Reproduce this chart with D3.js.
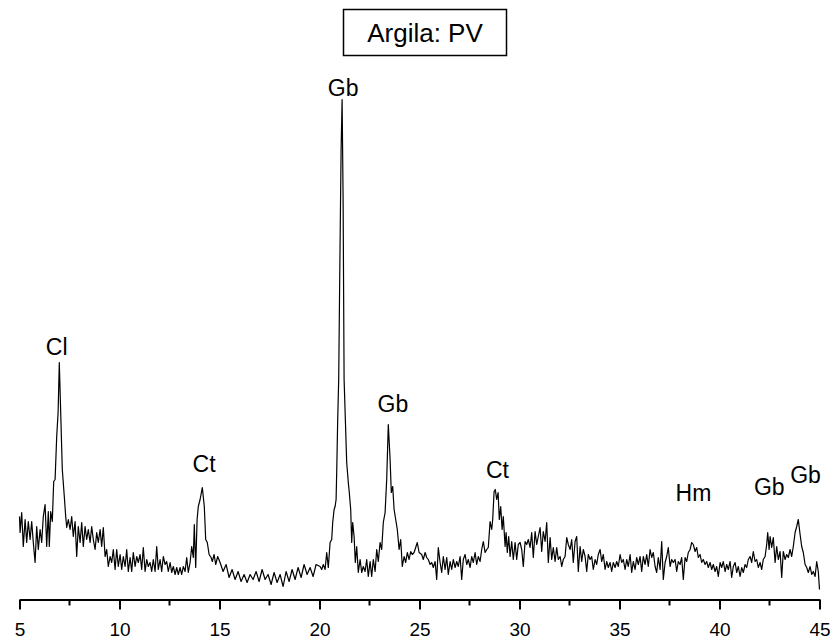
<!DOCTYPE html>
<html>
<head>
<meta charset="utf-8">
<script src="https://cdn.jsdelivr.net/npm/d3@7"></script>
<style>
    body { margin: 0; background: #fff; }
    svg { display: block; }
    text { font-family: "Liberation Sans", Arial, sans-serif; }
</style>
</head>
<body>
<svg id="canvas"></svg>
<script>
// diffractogram, [2theta, counts]
const SCAN_LOW = [
    [5.00, 83], [5.03, 67], [5.11, 87], [5.19, 53], [5.28, 80], [5.36, 57], [5.44, 78], [5.53, 60],
    [5.61, 78], [5.69, 57], [5.78, 37], [5.86, 73], [5.94, 50], [6.03, 70], [6.11, 57], [6.19, 83],
    [6.28, 95], [6.36, 53], [6.44, 88], [6.49, 53], [6.56, 88], [6.64, 78], [6.71, 118], [6.78, 120],
    [6.86, 163], [6.93, 187], [6.99, 237], [7.06, 187], [7.14, 130], [7.24, 103], [7.31, 83], [7.36, 72],
    [7.44, 80], [7.53, 70], [7.61, 83], [7.69, 63], [7.78, 78], [7.86, 43], [7.94, 73], [8.03, 57],
    [8.11, 77], [8.19, 53], [8.28, 73], [8.36, 60], [8.44, 70], [8.53, 57], [8.61, 73], [8.69, 60],
    [8.78, 50], [8.86, 67], [8.94, 57], [9.03, 70], [9.11, 53], [9.19, 72], [9.28, 43], [9.36, 50],
    [9.44, 33], [9.53, 43], [9.61, 37], [9.69, 50], [9.78, 30], [9.86, 50], [9.94, 33], [10.03, 45],
    [10.11, 30], [10.19, 43], [10.28, 33], [10.36, 50], [10.44, 28], [10.53, 42], [10.61, 28], [10.69, 47],
    [10.78, 33], [10.86, 43], [10.94, 37], [11.03, 45], [11.11, 30], [11.19, 52], [11.28, 28], [11.36, 40],
    [11.44, 33], [11.53, 37], [11.61, 28], [11.69, 40], [11.78, 28], [11.86, 53], [11.94, 30], [12.03, 40],
    [12.11, 28], [12.19, 43], [12.28, 35], [12.36, 38], [12.44, 28], [12.53, 37], [12.61, 27], [12.69, 33],
    [12.78, 25], [12.86, 32], [12.94, 25], [13.03, 32], [13.11, 25], [13.19, 33], [13.28, 28], [13.36, 42],
    [13.44, 27], [13.53, 37], [13.61, 53], [13.69, 42], [13.74, 75], [13.81, 32], [13.88, 80], [13.94, 93],
    [14.03, 100], [14.14, 112], [14.24, 93], [14.31, 60], [14.39, 57], [14.48, 45], [14.58, 42], [14.64, 38],
    [14.73, 45], [14.81, 35], [14.91, 43]
];

const SCAN_MID = [
    [15.03, 37], [15.18, 28], [15.33, 35], [15.48, 22], [15.63, 30], [15.78, 20], [15.93, 28], [16.08, 18],
    [16.23, 25], [16.38, 17], [16.53, 25], [16.68, 20], [16.83, 28], [16.98, 18], [17.13, 30], [17.28, 20],
    [17.43, 25], [17.58, 15], [17.73, 27], [17.88, 17], [18.03, 25], [18.18, 13], [18.33, 28], [18.48, 18],
    [18.63, 30], [18.78, 20], [18.93, 32], [19.08, 22], [19.23, 35], [19.38, 25], [19.53, 32], [19.68, 23],
    [19.83, 35], [20.03, 33], [20.11, 30], [20.19, 35], [20.28, 30], [20.36, 47], [20.44, 32], [20.53, 57],
    [20.61, 60], [20.66, 77], [20.73, 90], [20.78, 93], [20.83, 100], [20.86, 127], [20.91, 180], [20.96, 220],
    [21.01, 320], [21.08, 450], [21.13, 500], [21.18, 400], [21.23, 220], [21.36, 137], [21.44, 117], [21.49, 107],
    [21.56, 90], [21.61, 57], [21.66, 77], [21.73, 63], [21.79, 37], [21.86, 53], [21.94, 27], [22.03, 40],
    [22.11, 27], [22.19, 33], [22.28, 28], [22.36, 40], [22.44, 23], [22.53, 38], [22.61, 23], [22.69, 40],
    [22.78, 28], [22.86, 50], [22.94, 38], [23.03, 57], [23.11, 50], [23.19, 77], [23.28, 87], [23.36, 120],
    [23.44, 175], [23.53, 140], [23.59, 107], [23.66, 113], [23.73, 90], [23.81, 80], [23.89, 70], [23.98, 50],
    [24.06, 60], [24.14, 33], [24.23, 43], [24.31, 37], [24.39, 47], [24.48, 40], [24.56, 48], [24.64, 45],
    [24.73, 47], [24.81, 52], [24.89, 57], [24.98, 47]
];

const SCAN_HIGH = [
    [25.11, 45], [25.19, 40], [25.28, 47], [25.36, 42], [25.44, 40], [25.53, 35], [25.61, 37], [25.69, 32],
    [25.78, 38], [25.86, 20], [25.94, 52], [26.03, 37], [26.11, 27], [26.19, 43], [26.28, 30], [26.36, 42],
    [26.44, 25], [26.53, 38], [26.61, 30], [26.69, 40], [26.78, 32], [26.86, 38], [26.94, 33], [27.03, 43],
    [27.11, 20], [27.19, 40], [27.28, 45], [27.36, 35], [27.44, 40], [27.53, 32], [27.61, 43], [27.69, 37],
    [27.78, 47], [27.86, 35], [27.94, 43], [28.03, 38], [28.11, 50], [28.19, 58], [28.28, 47], [28.36, 50],
    [28.44, 52], [28.53, 78], [28.61, 70], [28.66, 80], [28.73, 108], [28.79, 110], [28.86, 100], [28.93, 107],
    [28.99, 80], [29.06, 93], [29.13, 70], [29.19, 83], [29.28, 53], [29.33, 67], [29.39, 47], [29.46, 63],
    [29.53, 43], [29.61, 58], [29.69, 40], [29.78, 57], [29.86, 40], [29.94, 55], [30.03, 57], [30.11, 50],
    [30.19, 33], [30.28, 58], [30.36, 55], [30.44, 60], [30.53, 52], [30.61, 67], [30.69, 42], [30.78, 68],
    [30.86, 55], [30.94, 63], [31.03, 72], [31.11, 48], [31.19, 68], [31.28, 58], [31.36, 77], [31.44, 37],
    [31.53, 62], [31.61, 40], [31.69, 52], [31.78, 38], [31.86, 52], [31.94, 40], [32.03, 43], [32.11, 33],
    [32.19, 40], [32.28, 43], [32.36, 62], [32.44, 55], [32.53, 50], [32.61, 60], [32.69, 37], [32.78, 58],
    [32.86, 63], [32.94, 28], [33.03, 53], [33.11, 38], [33.19, 50], [33.28, 43], [33.36, 28], [33.44, 45],
    [33.53, 40], [33.61, 43], [33.69, 30], [33.78, 40], [33.86, 35], [33.94, 45], [34.03, 50], [34.11, 38],
    [34.19, 45], [34.28, 30], [34.36, 38], [34.44, 32], [34.53, 37], [34.61, 28], [34.69, 37], [34.78, 32],
    [34.86, 38], [34.94, 33], [35.03, 45], [35.11, 37], [35.19, 40], [35.28, 30], [35.36, 40], [35.44, 33],
    [35.53, 45], [35.61, 27], [35.69, 38], [35.78, 30], [35.86, 42], [35.94, 35], [36.03, 43], [36.11, 28],
    [36.19, 43], [36.28, 35], [36.36, 45], [36.44, 33], [36.53, 50], [36.61, 42], [36.69, 47], [36.78, 33],
    [36.86, 27], [36.94, 42], [37.03, 30], [37.11, 58], [37.19, 20], [37.28, 37], [37.36, 43], [37.44, 52],
    [37.53, 33], [37.61, 40], [37.69, 37], [37.78, 40], [37.86, 28], [37.94, 38], [38.03, 35], [38.11, 42],
    [38.19, 20], [38.28, 42], [38.36, 38], [38.44, 47], [38.53, 50], [38.61, 57], [38.69, 55], [38.78, 48],
    [38.86, 52], [38.94, 42], [39.03, 45], [39.11, 37], [39.19, 40], [39.28, 35], [39.36, 38], [39.44, 32],
    [39.53, 37], [39.61, 30], [39.69, 35], [39.78, 28], [39.86, 33], [39.94, 23], [40.03, 37], [40.11, 32],
    [40.19, 38], [40.28, 28], [40.36, 35], [40.44, 30], [40.53, 38], [40.61, 22], [40.69, 33], [40.78, 37],
    [40.86, 27], [40.94, 33], [41.03, 23], [41.11, 32], [41.19, 27], [41.28, 35], [41.36, 32], [41.44, 40],
    [41.53, 43], [41.61, 37], [41.69, 48], [41.78, 38], [41.86, 40], [41.94, 32], [42.03, 37], [42.11, 30],
    [42.19, 40], [42.28, 43], [42.36, 55], [42.41, 67], [42.48, 50], [42.53, 63], [42.61, 52], [42.69, 62],
    [42.78, 37], [42.86, 53], [42.94, 40], [43.03, 48], [43.11, 22], [43.19, 48], [43.28, 40], [43.36, 45],
    [43.44, 42], [43.53, 50], [43.61, 43], [43.69, 53], [43.78, 67], [43.86, 73], [43.94, 80], [44.03, 65],
    [44.11, 53], [44.19, 47], [44.28, 35], [44.36, 32], [44.44, 27], [44.53, 33], [44.61, 25], [44.69, 28],
    [44.78, 23], [44.86, 38], [44.94, 28], [45.00, 10]
];

// phase labels above the reflections
const PEAK_NAMES = ["Cl", "Ct", "Gb", "Gb", "Ct", "Hm", "Gb", "Gb"];
const PEAK_ANGLES = [6.86, 14.23, 21.18, 23.67, 28.9, 38.7, 42.49, 44.3];
const PEAK_LABEL_COUNTS = [245, 128, 504, 188, 122, 99, 105, 117];

const X_TICKS = [5, 10, 15, 20, 25, 30, 35, 40, 45];
const X_MINOR = [7.5, 12.5, 17.5, 22.5, 27.5, 32.5, 37.5, 42.5];
const TITLE = "Argila: PV";

const width = 837;
const height = 640;
const plotLeft = 19.5;
const plotRight = 819.5;
const axisY = 599.5;

const canvas = d3.select("#canvas")
    .attr("width", width)
    .attr("height", height);

canvas.append("rect")
    .attr("width", width)
    .attr("height", height)
    .attr("fill", "#fff");

const data = SCAN_LOW.concat(SCAN_MID, SCAN_HIGH);

const xScale = d3.scaleLinear()
    .domain([5, 45])
    .range([plotLeft, plotRight]);
const yScale = d3.scaleLinear()
    .domain([0, 500])
    .range([axisY, 99.5]);

//Draws the pattern
const line = d3.line()
    .x(d => xScale(d[0]))
    .y(d => yScale(d[1]));

canvas.append("path")
    .datum(data)
    .attr("d", line)
    .attr("fill", "none")
    .attr("stroke", "#000")
    .attr("stroke-width", 1.2)
    .attr("stroke-linejoin", "round");

//Bottom axis, major and minor ticks
const xAxis = d3.axisBottom(xScale)
    .tickValues(X_TICKS)
    .tickSize(10)
    .tickPadding(13)
    .tickSizeOuter(0)
    .tickFormat(d3.format("d"));

const gx = canvas.append("g")
    .attr("id", "x-axis")
    .attr("transform", `translate(0, ${axisY})`)
    .call(xAxis);

gx.select(".domain")
    .attr("stroke-width", 2);
gx.selectAll(".tick line")
    .attr("stroke-width", 2);
gx.selectAll(".tick text")
    .attr("fill", "#000")
    .style("font-size", "19px");

gx.selectAll(".minor")
    .data(X_MINOR)
    .enter()
    .append("line")
    .attr("class", "minor")
    .attr("x1", d => xScale(d))
    .attr("x2", d => xScale(d))
    .attr("y1", 0)
    .attr("y2", 6)
    .attr("stroke", "#000")
    .attr("stroke-width", 2);

//Peak labels
canvas.selectAll(".peak")
    .data(PEAK_NAMES)
    .enter()
    .append("text")
    .attr("class", "peak")
    .attr("x", (d, i) => xScale(PEAK_ANGLES[i]))
    .attr("y", (d, i) => yScale(PEAK_LABEL_COUNTS[i]))
    .attr("text-anchor", "middle")
    .style("font-size", "23px")
    .text(d => d);

//Title box
const title = canvas.append("g");
title.append("rect")
    .attr("x", 343.5)
    .attr("y", 9.5)
    .attr("width", 163)
    .attr("height", 46)
    .attr("fill", "#fff")
    .attr("stroke", "#000")
    .attr("stroke-width", 1.5);
title.append("text")
    .attr("x", 425)
    .attr("y", 42)
    .attr("text-anchor", "middle")
    .style("font-size", "26px")
    .text(TITLE);
</script>
</body>
</html>
